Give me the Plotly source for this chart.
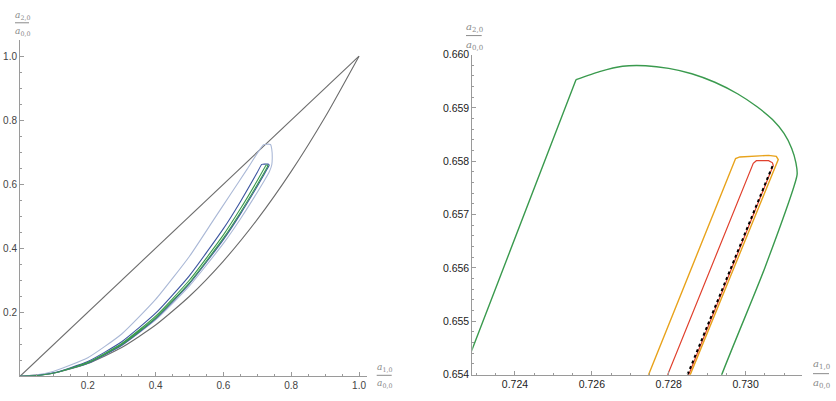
import plotly.graph_objects as go

W, H = 836, 401

# ---------------- data: left panel (full moment space) ----------------
diag_x = [0.0, 1.0]
diag_y = [0.0, 1.0]

parab_x = [0.0, 0.1, 0.2, 0.3, 0.4, 0.5, 0.6, 0.7, 0.8, 0.9, 1.0]
parab_y = [0.0, 0.01, 0.04, 0.09, 0.16, 0.25, 0.36, 0.49, 0.64, 0.81, 1.0]

lightblue_x = [0.0, 0.05, 0.1, 0.2, 0.3, 0.4, 0.5, 0.57, 0.62, 0.67, 0.718,
               0.729, 0.739, 0.7425, 0.744, 0.7425, 0.735,
               0.72, 0.7, 0.65, 0.6, 0.5, 0.4, 0.3, 0.2, 0.1, 0.05, 0.0]
lightblue_y = [0.0, 0.0045, 0.016, 0.058, 0.132, 0.24, 0.375, 0.487, 0.567, 0.647, 0.723,
               0.725, 0.724, 0.71, 0.682, 0.66, 0.638,
               0.6101, 0.5748, 0.4915, 0.415, 0.2823, 0.1761, 0.0959, 0.0407, 0.0102, 0.0026, 0.0]

darkblue_x = [0.0, 0.05, 0.1, 0.2, 0.3, 0.4, 0.5, 0.6, 0.65, 0.7, 0.713,
              0.722, 0.731, 0.7343, 0.7348, 0.7335,
              0.7325, 0.72, 0.7, 0.65, 0.6, 0.5, 0.4, 0.3, 0.2, 0.1, 0.05, 0.0]
darkblue_y = [0.0, 0.0026, 0.0108, 0.0461, 0.1078, 0.197, 0.3147, 0.4611, 0.5454, 0.6371, 0.662,
              0.6628, 0.6627, 0.6615, 0.659, 0.656,
              0.654, 0.6304, 0.5935, 0.5066, 0.427, 0.2893, 0.1795, 0.0971, 0.0408, 0.0101, 0.0025, 0.0]

green_x = [0.0, 0.05, 0.1, 0.2, 0.3, 0.4, 0.5, 0.6, 0.65, 0.7, 0.72, 0.7229, 0.72559,
           0.7262, 0.7268, 0.7274, 0.728, 0.7286, 0.7292, 0.7298, 0.7303, 0.7307, 0.731,
           0.7312, 0.73131, 0.73134,
           0.7305, 0.72938, 0.72, 0.7, 0.65, 0.6, 0.5, 0.4, 0.3, 0.2, 0.1, 0.05, 0.0]
green_y = [0.0, 0.0026, 0.0102, 0.0435, 0.1024, 0.1877, 0.3007, 0.4417, 0.5231, 0.6115, 0.649, 0.6545, 0.65953,
           0.65968, 0.65978, 0.65979, 0.65974, 0.65964, 0.65948, 0.65926, 0.65902, 0.65878, 0.65852,
           0.65824, 0.65797, 0.65775,
           0.656, 0.654, 0.636, 0.599, 0.5116, 0.4315, 0.2928, 0.1821, 0.0988, 0.0417, 0.0101, 0.0025, 0.0]
GREEN_CORNER = 12  # index of the sharp upper-left corner of the green loop

# ---------------- data: right panel (zoom near the tip) ----------------
orange_x = [0.72636, 0.72748, 0.72974, 0.72985, 0.7303, 0.7306, 0.7308, 0.73085, 0.72856, 0.72744]
orange_y = [0.652, 0.654, 0.65805, 0.65808, 0.6581, 0.65811, 0.65809, 0.65803, 0.654, 0.652]

red_x = [0.72685, 0.72797, 0.7302, 0.73028, 0.7306, 0.7307, 0.73072, 0.72852, 0.7274]
red_y = [0.652, 0.654, 0.65796, 0.65801, 0.65801, 0.65797, 0.65792, 0.654, 0.652]

black_x = [0.7307, 0.72849, 0.72736]
black_y = [0.65791, 0.654, 0.652]

left_xticks = [0.2, 0.4, 0.6, 0.8, 1.0]
left_xticktext = ["0.2", "0.4", "0.6", "0.8", "1.0"]
left_yticks = [0.2, 0.4, 0.6, 0.8, 1.0]
left_yticktext = ["0.2", "0.4", "0.6", "0.8", "1.0"]
right_xticks = [0.724, 0.726, 0.728, 0.730]
right_xticktext = ["0.724", "0.726", "0.728", "0.730"]
right_yticks = [0.654, 0.655, 0.656, 0.657, 0.658, 0.659, 0.660]
right_yticktext = ["0.654", "0.655", "0.656", "0.657", "0.658", "0.659", "0.660"]

# ---------------- styles ----------------
GRAY = "#6c6c6c"
LIGHTBLUE = "#aab8d6"
DARKBLUE = "#3d55a0"
GREEN = "#3a9a4e"
ORANGE = "#e8a31c"
RED = "#e0412e"

fig = go.Figure()

def add(x, y, color, width, xa, ya, dash="solid", shape="linear", smoothing=0.6):
    fig.add_trace(go.Scatter(x=x, y=y, mode="lines", xaxis=xa, yaxis=ya,
                             line=dict(color=color, width=width, dash=dash, shape=shape,
                                       smoothing=smoothing),
                             hoverinfo="skip", showlegend=False))

# left
add(diag_x, diag_y, GRAY, 1.1, "x", "y")
add(parab_x, parab_y, GRAY, 1.1, "x", "y", shape="spline")
add(lightblue_x, lightblue_y, LIGHTBLUE, 1.1, "x", "y", shape="spline", smoothing=0.5)
add(darkblue_x, darkblue_y, DARKBLUE, 1.1, "x", "y", shape="spline", smoothing=0.5)
add(green_x, green_y, GREEN, 1.1, "x", "y", shape="spline", smoothing=0.5)

# right
add(green_x[:GREEN_CORNER + 1], green_y[:GREEN_CORNER + 1], GREEN, 1.4, "x2", "y2")
add(green_x[GREEN_CORNER:], green_y[GREEN_CORNER:], GREEN, 1.4, "x2", "y2",
    shape="spline", smoothing=0.6)
add(orange_x, orange_y, ORANGE, 1.4, "x2", "y2")
add(red_x, red_y, RED, 1.2, "x2", "y2")
add(black_x, black_y, "#000000", 2, "x2", "y2", dash="dot")

def px2fx(px):
    return px / W

def px2fy(py):
    return 1 - py / H

AX = "#9a9a9a"

def axis_common(size, color):
    return dict(showgrid=False, zeroline=False, showline=True, linecolor=AX, linewidth=1,
                ticks="inside", ticklen=4, tickcolor=AX, tickwidth=1,
                tickfont=dict(family="Liberation Sans, Arial, sans-serif", size=size, color=color))

fig.update_layout(
    width=W, height=H, margin=dict(l=0, r=0, t=0, b=0, pad=0),
    paper_bgcolor="white", plot_bgcolor="white",
    xaxis=dict(domain=[px2fx(20), px2fx(366.5)], range=[0, 1.022], anchor="y",
               tickmode="array", tickvals=left_xticks, ticktext=left_xticktext,
               minor=dict(tickmode="linear", tick0=0, dtick=0.05, ticks="inside", ticklen=2,
                          tickcolor=AX, showgrid=False),
               **axis_common(10, "#444")),
    yaxis=dict(domain=[px2fy(381.7), px2fy(35.2)], range=[0, 1.05], anchor="x",
               tickmode="array", tickvals=left_yticks, ticktext=left_yticktext,
               minor=dict(tickmode="linear", tick0=0, dtick=0.05, ticks="inside", ticklen=2,
                          tickcolor=AX, showgrid=False),
               **axis_common(10, "#444")),
    xaxis2=dict(domain=[px2fx(472.3), px2fx(801.7)], range=[0.72289, 0.73146], anchor="y2",
                tickmode="array", tickvals=right_xticks, ticktext=right_xticktext,
                minor=dict(tickmode="linear", tick0=0.724, dtick=0.0005, ticks="inside", ticklen=2,
                           tickcolor=AX, showgrid=False),
                **axis_common(10.5, "#222")),
    yaxis2=dict(domain=[px2fy(380), px2fy(50)], range=[0.654, 0.660], anchor="x2",
                tickmode="array", tickvals=right_yticks, ticktext=right_yticktext,
                minor=dict(tickmode="linear", tick0=0.654, dtick=0.0002, ticks="inside", ticklen=2,
                           tickcolor=AX, showgrid=False),
                **axis_common(10.5, "#222")),
)

LABEL_FONT = dict(family="DejaVu Serif, Liberation Serif, serif", color="#8a8a8a")

def fraction(cx, ynum, ybar, yden, x0, x1, num, den, size):
    fig.add_annotation(x=px2fx(cx), y=px2fy(ynum), xref="paper", yref="paper",
                       text=num, showarrow=False, xanchor="center", yanchor="middle",
                       font=dict(size=size, **LABEL_FONT))
    fig.add_annotation(x=px2fx(cx), y=px2fy(yden), xref="paper", yref="paper",
                       text=den, showarrow=False, xanchor="center", yanchor="middle",
                       font=dict(size=size, **LABEL_FONT))
    fig.add_shape(type="line", xref="paper", yref="paper",
                  x0=px2fx(x0), x1=px2fx(x1), y0=px2fy(ybar), y1=px2fy(ybar),
                  line=dict(color="#8a8a8a", width=1))

num1 = "<i>a</i><sub>1,0</sub>"
num2 = "<i>a</i><sub>2,0</sub>"
den0 = "<i>a</i><sub>0,0</sub>"

fraction(22, 9.5, 17.3, 26.5, 15, 29, num2, den0, 9)
fraction(384, 373, 380.7, 389.5, 376.7, 391.7, num1, den0, 9)
fraction(474, 22, 30.5, 40.5, 466, 481.7, num2, den0, 10)
fraction(821, 370, 379, 389, 813, 829, num1, den0, 10)

fig.write_html("out.html")
